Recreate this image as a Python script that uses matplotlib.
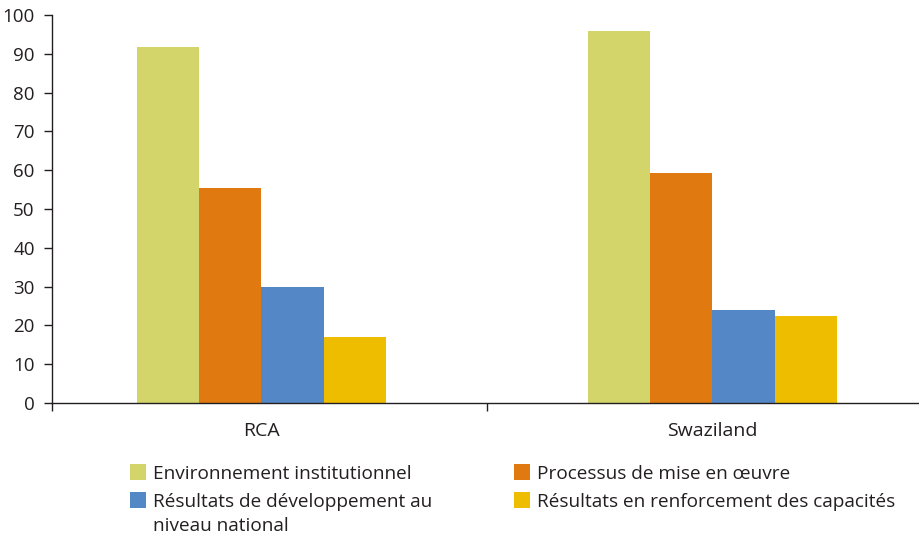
import matplotlib.pyplot as plt
from matplotlib.patches import Rectangle
import numpy as np

plt.rcParams['font.family'] = ['Open Sans', 'DejaVu Sans']

pays = ['RCA', 'Swaziland']
series = ['Environnement institutionnel',
          'Processus de mise en œuvre',
          'Résultats de développement au\nniveau national',
          'Résultats en renforcement des capacités']
couleurs = ['#D3D56B', '#DF7910', '#5487C6', '#EFBD00']

environnement = [91.7, 95.9]
processus = [55.5, 59.2]
developpement = [30.0, 24.0]
renforcement = [17.1, 22.5]
valeurs = [environnement, processus, developpement, renforcement]

W, H = 919, 535
fig = plt.figure(figsize=(W/100, H/100), dpi=100)
ax = fig.add_axes([52/W, 1 - 403/H, 1 - 52/W, (403 - 15)/H])

x = np.arange(len(pays))
w = 0.138
for i, v in enumerate(valeurs):
    ax.bar(x + (i - 1.5)*w, v, w, color=couleurs[i], label=series[i])

ax.set_ylim(0, 100)
ax.set_xlim(-0.4645, 1.4579)
ax.set_yticks(range(0, 101, 10))

for s in ['top', 'right']:
    ax.spines[s].set_visible(False)
for s in ['left', 'bottom']:
    ax.spines[s].set_color('#231f20')
    ax.spines[s].set_linewidth(1.0)

# ticks séparant les catégories, noms de pays au centre des groupes
ax.set_xticks([-0.4645, 0.5])
ax.set_xticklabels(['', ''])
ax.set_xticks(x, minor=True)
ax.set_xticklabels(pays, minor=True)
ax.tick_params(axis='x', which='major', length=6, width=1.0, color='#231f20')
ax.tick_params(axis='x', which='minor', length=0, pad=14, labelsize=14, labelcolor='#231f20')
ax.tick_params(axis='y', length=6, width=1.0, color='#231f20', pad=6.5, labelsize=13.5, labelcolor='#231f20')

# légende en deux colonnes sous le graphique (carrés + textes, une ligne à la fois)
pos_x = [130, 514, 130, 514]
pos_y = [480, 480, 508, 508]
interligne = 24
for i in range(len(series)):
    fig.add_artist(Rectangle((pos_x[i]/W, 1 - pos_y[i]/H), 16/W, 16/H,
                             transform=fig.transFigure, color=couleurs[i], lw=0))
    for k, ligne in enumerate(series[i].split('\n')):
        fig.text((pos_x[i] + 23)/W, 1 - (pos_y[i] - 1 + k*interligne)/H, ligne,
                 fontsize=13.7, va='baseline', ha='left', color='#231f20')

fig.savefig('out.png', dpi=100)
